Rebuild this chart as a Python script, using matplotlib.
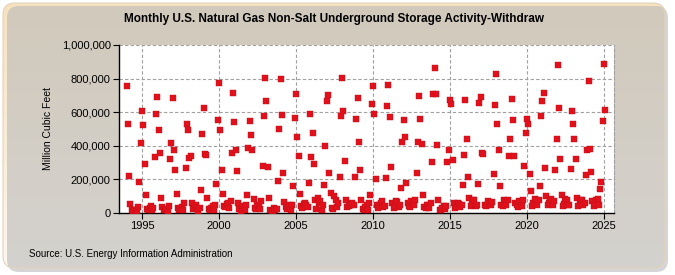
import numpy as np
import matplotlib
matplotlib.use("Agg")
import matplotlib.pyplot as plt
from matplotlib.patches import FancyBboxPatch
from matplotlib.ticker import FuncFormatter, MultipleLocator

plt.rcParams['font.family'] = ['Liberation Sans', 'DejaVu Sans']

# Monthly withdrawals, thousand MMcf (Jan..Dec)
years = list(range(1994, 2026))
w1994 = [758, 531, 222, 55, 18, 14, 20, 16, 12, 35, 186, 418]
w1995 = [609, 526, 293, 109, 25, 15, 30, 40, 18, 28, 335, 591]
w1996 = [692, 496, 359, 91, 35, 20, 15, 25, 12, 40, 321, 418]
w1997 = [686, 377, 258, 115, 30, 18, 25, 35, 20, 60, 270, 531]
w1998 = [496, 329, 341, 61, 22, 30, 45, 30, 14, 30, 139, 472]
w1999 = [627, 353, 345, 91, 25, 18, 30, 40, 15, 50, 174, 555]
w2000 = [776, 496, 258, 115, 40, 35, 55, 60, 30, 70, 359, 716]
w2001 = [543, 377, 252, 60, 25, 12, 30, 40, 20, 45, 109, 389]
w2002 = [549, 466, 377, 85, 30, 25, 45, 50, 22, 70, 282, 579]
w2003 = [805, 668, 276, 91, 20, 10, 12, 30, 15, 25, 192, 502]
w2004 = [800, 585, 240, 67, 35, 25, 40, 45, 20, 50, 163, 567]
w2005 = [710, 454, 341, 115, 40, 30, 55, 60, 45, 35, 180, 591]
w2006 = [335, 478, 293, 80, 25, 91, 60, 70, 20, 45, 168, 401]
w2007 = [668, 704, 240, 121, 30, 25, 103, 80, 35, 60, 216, 579]
w2008 = [805, 609, 311, 79, 35, 40, 55, 45, 60, 50, 216, 561]
w2009 = [686, 424, 258, 79, 25, 20, 35, 45, 15, 60, 109, 651]
w2010 = [758, 591, 204, 45, 30, 50, 60, 70, 35, 40, 210, 639]
w2011 = [764, 573, 276, 60, 30, 40, 70, 65, 35, 50, 151, 424]
w2012 = [555, 454, 180, 60, 40, 35, 70, 55, 45, 80, 240, 424]
w2013 = [698, 561, 412, 109, 35, 30, 50, 45, 30, 60, 305, 710]
w2014 = [865, 710, 407, 79, 20, 15, 30, 40, 25, 40, 305, 377]
w2015 = [674, 651, 317, 61, 30, 40, 60, 55, 35, 45, 168, 347]
w2016 = [674, 442, 216, 91, 40, 55, 80, 75, 40, 50, 174, 656]
w2017 = [692, 359, 353, 50, 40, 45, 70, 60, 45, 65, 234, 645]
w2018 = [830, 531, 377, 163, 50, 40, 75, 70, 45, 80, 341, 442]
w2019 = [680, 555, 339, 60, 45, 35, 70, 65, 40, 80, 282, 478]
w2020 = [561, 531, 234, 130, 40, 60, 85, 80, 50, 75, 163, 579]
w2021 = [668, 716, 270, 100, 45, 60, 80, 85, 50, 70, 258, 442]
w2022 = [883, 627, 323, 110, 40, 55, 85, 80, 45, 50, 264, 609]
w2023 = [531, 442, 323, 90, 40, 55, 80, 75, 45, 60, 228, 377]
w2024 = [788, 383, 246, 70, 40, 55, 75, 85, 45, 145, 186, 549]
w2025 = [889, 615]

series = [w1994, w1995, w1996, w1997, w1998, w1999, w2000, w2001, w2002, w2003,
          w2004, w2005, w2006, w2007, w2008, w2009, w2010, w2011, w2012, w2013,
          w2014, w2015, w2016, w2017, w2018, w2019, w2020, w2021, w2022, w2023,
          w2024, w2025]

x = []
y = []
for yr, vals in zip(years, series):
    for m, v in enumerate(vals):
        x.append(yr + m / 12.0)
        y.append(v * 1000)

x_ticks = [1995, 2000, 2005, 2010, 2015, 2020, 2025]
title = "Monthly U.S. Natural Gas Non-Salt Underground Storage Activity-Withdraw"
ylabel = "Million Cubic Feet"
source = "Source: U.S. Energy Information Administration"

W, H = 675, 275
fig = plt.figure(figsize=(W / 100, H / 100), dpi=100)
fig.patch.set_facecolor('white')

# background panel with shadow and gradient
bg = fig.add_axes([0, 0, 1, 1])
bg.set_xlim(0, W)
bg.set_ylim(0, H)
bg.axis('off')
shadow = FancyBboxPatch((7, 3), W - 14, H - 9, boxstyle="round,pad=0,rounding_size=12",
                        facecolor='#b9b9b9', edgecolor='none', alpha=0.6)
bg.add_patch(shadow)
panel = FancyBboxPatch((3, 7), W - 13, H - 10, boxstyle="round,pad=0,rounding_size=12",
                       facecolor='none', edgecolor='#e2d3bb', linewidth=0.8)
grad = np.linspace(0, 1, 256).reshape(-1, 1)
from matplotlib.colors import LinearSegmentedColormap
cmap = LinearSegmentedColormap.from_list('bgc', ['#fdf7ee', '#f6e2bf'])
im = bg.imshow(grad, cmap=cmap, aspect='auto', extent=[3, W - 10, 7, H - 3], origin='lower')
bg.add_patch(panel)
im.set_clip_path(panel)

ax = fig.add_axes([119 / W, (H - 213) / H, 495 / W, 168 / H])
ax.set_facecolor('white')
ax.scatter(x, y, marker='s', s=14, color='#e3101b', edgecolors='#b8101a', linewidths=0.3, zorder=3)

ax.set_xlim(1993.51, 2025.65)
ax.set_ylim(0, 1000000)
ax.set_xticks(x_ticks)
ax.set_xticklabels([str(t) for t in x_ticks])
ax.yaxis.set_major_locator(MultipleLocator(200000))
ax.yaxis.set_major_formatter(FuncFormatter(lambda v, p: f"{int(v):,}"))
ax.grid(True, color='#a0a0a0', linestyle=(0, (3, 2)), linewidth=0.8)
ax.set_axisbelow(True)
for s in ['top']:
    ax.spines[s].set_visible(False)
ax.spines['right'].set_linestyle((0, (3, 2)))
ax.spines['right'].set_color('#a0a0a0')
ax.spines['right'].set_linewidth(0.8)
ax.spines['left'].set_linewidth(1.0)
ax.spines['bottom'].set_linewidth(1.0)
ax.tick_params(axis='both', labelsize=8, length=4, width=0.8, color='black', pad=2)
ax.tick_params(axis='y', length=4)
ax.set_ylabel(ylabel, fontsize=7.5, labelpad=6)

fig.text(0.5 * (W - 7) / W, 1 - 19 / H, title, ha='center', va='center',
         fontsize=8.5, fontweight='bold')
fig.text(29 / W, 1 - 254 / H, source, ha='left', va='center', fontsize=7)

fig.savefig('out.png', dpi=100, facecolor=fig.get_facecolor())
